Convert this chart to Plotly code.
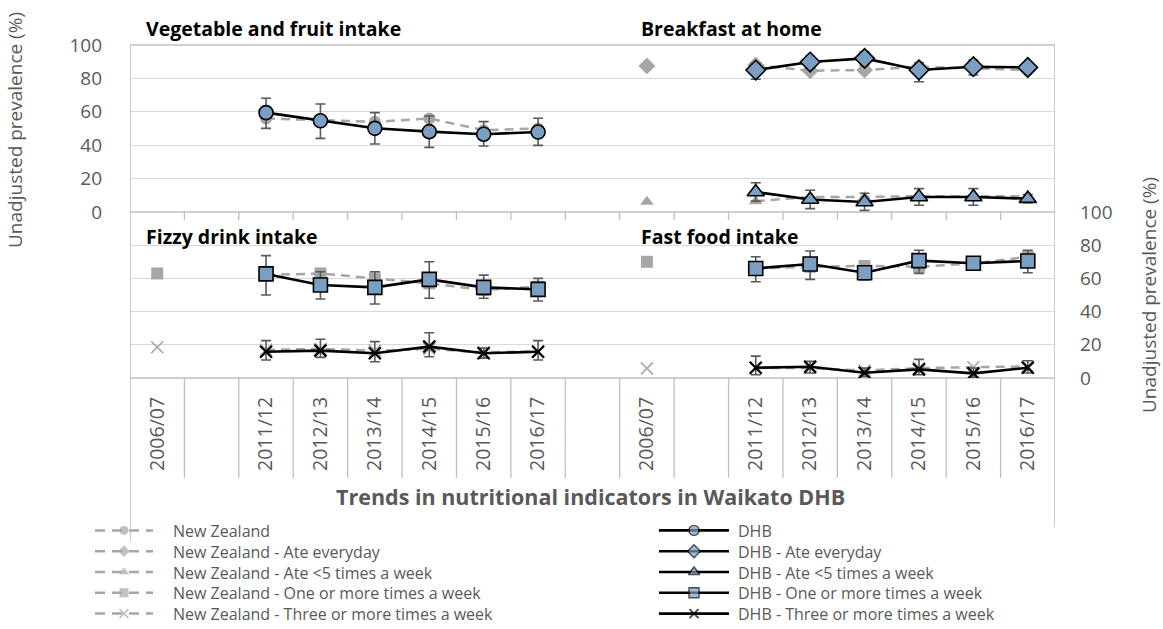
import plotly.graph_objects as go

# ---------------- data ----------------
years = ["2011/12", "2012/13", "2013/14", "2014/15", "2015/16", "2016/17"]
categories = ["2006/07", ""] + years + [""] + ["2006/07", ""] + years  # 17 slots

# Vegetable and fruit intake (top-left)
veg_dhb = [59.5, 54.6, 50.1, 48.1, 46.6, 47.9]
veg_dhb_lo = [50.1, 44.1, 40.7, 38.7, 39.5, 39.9]
veg_dhb_hi = [68.1, 64.7, 59.5, 57.5, 54.1, 56.1]
veg_nz = [56.0, 55.0, 54.0, 56.0, 49.0, 50.0]

# Breakfast at home (top-right)
bf_every_dhb = [85.0, 89.8, 92.0, 85.0, 87.0, 86.6]
bf_every_dhb_lo = [79.5, 86.3, 88.0, 78.0, 82.0, 84.5]
bf_every_dhb_hi = [89.0, 93.3, 96.0, 89.4, 91.0, 88.7]
bf_every_nz_0607 = 87.5
bf_every_nz = [88.0, 84.6, 85.0, 87.0, 86.0, 85.0]

bf_lt5_dhb = [12.0, 7.5, 6.0, 9.0, 9.0, 8.0]
bf_lt5_dhb_lo = [6.5, 2.0, 1.0, 4.0, 4.0, 5.5]
bf_lt5_dhb_hi = [17.5, 13.0, 11.2, 14.0, 14.0, 10.5]
bf_lt5_nz_0607 = 6.2
bf_lt5_nz = [6.5, 9.0, 9.0, 9.5, 9.5, 9.5]

# Fizzy drink intake (bottom-left)
fz_one_dhb = [62.7, 56.0, 54.6, 59.4, 54.6, 53.4]
fz_one_dhb_lo = [50.0, 47.6, 44.6, 48.0, 48.0, 46.4]
fz_one_dhb_hi = [73.7, 64.0, 64.0, 70.0, 62.0, 60.0]
fz_one_nz_0607 = 63.0
fz_one_nz = [62.0, 63.0, 60.0, 57.0, 53.0, 55.0]

fz_three_dhb = [15.8, 16.5, 14.9, 18.9, 14.9, 15.8]
fz_three_dhb_lo = [10.8, 12.4, 9.8, 12.8, 12.0, 10.8]
fz_three_dhb_hi = [22.5, 23.3, 21.9, 27.3, 18.0, 22.5]
fz_three_nz_0607 = 18.5
fz_three_nz = [17.0, 17.5, 16.5, 17.5, 15.5, 16.0]

# Fast food intake (bottom-right)
ff_one_dhb = [66.0, 68.7, 63.4, 70.7, 69.1, 70.5]
ff_one_dhb_lo = [58.0, 59.4, 59.0, 63.0, 65.5, 63.4]
ff_one_dhb_hi = [73.0, 76.5, 67.0, 77.0, 72.5, 77.0]
ff_one_nz_0607 = 70.0
ff_one_nz = [66.0, 67.0, 67.5, 67.0, 69.0, 73.0]

ff_three_dhb = [6.2, 6.8, 3.2, 5.2, 2.8, 6.2]
ff_three_dhb_lo = [2.0, 3.0, 1.0, 2.0, 0.5, 3.0]
ff_three_dhb_hi = [13.2, 10.0, 6.0, 11.2, 6.0, 10.4]
ff_three_nz_0607 = 5.8
ff_three_nz = [6.0, 6.0, 4.5, 6.0, 6.5, 7.0]

y_ticks = [0, 20, 40, 60, 80, 100]

nz_names = ["New Zealand", "New Zealand - Ate everyday", "New Zealand - Ate <5 times a week",
            "New Zealand - One or more times a week", "New Zealand - Three or more times a week"]
dhb_names = ["DHB", "DHB - Ate everyday", "DHB - Ate <5 times a week",
             "DHB - One or more times a week", "DHB - Three or more times a week"]
legend_symbols = ["circle", "diamond", "triangle-up", "square", "x-thin"]

# ---------------- styling ----------------
FONT = "Open Sans"
GRAY_TXT = "#595959"
NZ_COL = "#A6A6A6"
DHB_FILL = "#7B9FC3"
ERR_COL = "#595959"
AXIS_COL = "#BFBFBF"
GRID_COL = "#D9D9D9"
NZ_DASH = "9px,6px"

W, H = 1163, 629
PL, PR, PT, PM, PB = 130, 1055, 45, 212, 378  # plot box pixels


def fx(X):
    return X / W


def fy(Y):
    return 1 - Y / H


left_years_x = [categories.index(y) for y in years]          # 2..7
right_years_x = [9 + 2 + i for i in range(len(years))]        # 11..16
left_0607_x = 0
right_0607_x = 9

fig = go.Figure()


def nz_trace(xs, x0607, v0607, vals, symbol, yaxis):
    if v0607 is None:
        xx, yy = xs, vals
    else:
        xx = [x0607, x0607 + 1] + xs
        yy = [v0607, None] + vals
    if symbol == "x-thin":
        marker = dict(symbol=symbol, size=12, color=NZ_COL,
                      line=dict(color=NZ_COL, width=1.6))
    else:
        marker = dict(symbol=symbol, size=12 if symbol != "diamond" else 13,
                      color=NZ_COL, line=dict(width=0))
    fig.add_trace(go.Scatter(
        x=xx, y=yy, xaxis="x", yaxis=yaxis, mode="lines+markers",
        line=dict(color=NZ_COL, width=2.5, dash=NZ_DASH),
        marker=marker, connectgaps=False, showlegend=False, hoverinfo="skip"))


def dhb_trace(xs, vals, lo, hi, symbol, yaxis, size):
    plus = [h - v for h, v in zip(hi, vals)]
    minus = [v - l for l, v in zip(lo, vals)]
    if symbol == "x-thin":
        marker = dict(symbol=symbol, size=size, color="black",
                      line=dict(color="black", width=2.2))
    else:
        marker = dict(symbol=symbol, size=size, color=DHB_FILL,
                      line=dict(color="black", width=1.6))
    fig.add_trace(go.Scatter(
        x=xs, y=vals, xaxis="x", yaxis=yaxis, mode="lines+markers",
        line=dict(color="black", width=2.6), marker=marker,
        error_y=dict(type="data", symmetric=False, array=plus, arrayminus=minus,
                     color=ERR_COL, thickness=1.6, width=5),
        showlegend=False, hoverinfo="skip"))


# NZ traces (behind)
nz_trace(left_years_x, None, None, veg_nz, "circle", "y")
nz_trace(right_years_x, right_0607_x, bf_every_nz_0607, bf_every_nz, "diamond", "y")
nz_trace(right_years_x, right_0607_x, bf_lt5_nz_0607, bf_lt5_nz, "triangle-up", "y")
nz_trace(left_years_x, left_0607_x, fz_one_nz_0607, fz_one_nz, "square", "y2")
nz_trace(left_years_x, left_0607_x, fz_three_nz_0607, fz_three_nz, "x-thin", "y2")
nz_trace(right_years_x, right_0607_x, ff_one_nz_0607, ff_one_nz, "square", "y2")
nz_trace(right_years_x, right_0607_x, ff_three_nz_0607, ff_three_nz, "x-thin", "y2")

# DHB traces
dhb_trace(left_years_x, veg_dhb, veg_dhb_lo, veg_dhb_hi, "circle", "y", 14)
dhb_trace(right_years_x, bf_every_dhb, bf_every_dhb_lo, bf_every_dhb_hi, "diamond", "y", 15)
dhb_trace(right_years_x, bf_lt5_dhb, bf_lt5_dhb_lo, bf_lt5_dhb_hi, "triangle-up", "y", 15)
dhb_trace(left_years_x, fz_one_dhb, fz_one_dhb_lo, fz_one_dhb_hi, "square", "y2", 14)
dhb_trace(left_years_x, fz_three_dhb, fz_three_dhb_lo, fz_three_dhb_hi, "x-thin", "y2", 12)
dhb_trace(right_years_x, ff_one_dhb, ff_one_dhb_lo, ff_one_dhb_hi, "square", "y2", 14)
dhb_trace(right_years_x, ff_three_dhb, ff_three_dhb_lo, ff_three_dhb_hi, "x-thin", "y2", 12)

# ---------------- legend (two columns, drawn on a full-page overlay axis) ----------------
LEG_SIZE = 16
LEG_LINE = LEG_SIZE * 1.3          # plotly multi-line spacing
LEG_MID = 572                      # centre of the 5-row block (pixels)
row_y = [LEG_MID + (i - 2) * LEG_LINE for i in range(5)]
LEG_FONT = dict(family=FONT, size=LEG_SIZE, color=GRAY_TXT)
annotations = []
for i, sym in enumerate(legend_symbols):
    y = row_y[i]
    mk = dict(symbol=sym, size=[0, 9, 0], color=NZ_COL,
              line=dict(color=NZ_COL, width=1.5 if sym == "x-thin" else 0))
    fig.add_trace(go.Scatter(
        x=[95, 124, 153], y=[y, y, y], xaxis="x3", yaxis="y3", mode="lines+markers",
        line=dict(color=NZ_COL, width=2.5, dash="10px,7px"), marker=mk,
        showlegend=False, hoverinfo="skip", cliponaxis=False))
    if sym == "x-thin":
        mk = dict(symbol=sym, size=[0, 9, 0], color="black",
                  line=dict(color="black", width=2))
    else:
        mk = dict(symbol=sym, size=[0, 10, 0], color=DHB_FILL,
                  line=dict(color="black", width=1.4))
    fig.add_trace(go.Scatter(
        x=[659, 694, 729], y=[y, y, y], xaxis="x3", yaxis="y3", mode="lines+markers",
        line=dict(color="black", width=2.6), marker=mk,
        showlegend=False, hoverinfo="skip", cliponaxis=False))

annotations.append(dict(text="<br>".join(nz_names).replace("<5", "&lt;5"),
                        xref="paper", yref="paper", x=fx(171), y=fy(LEG_MID),
                        xanchor="left", yanchor="middle", align="left",
                        showarrow=False, font=LEG_FONT))
annotations.append(dict(text="<br>".join(dhb_names).replace("<5", "&lt;5"),
                        xref="paper", yref="paper", x=fx(736), y=fy(LEG_MID),
                        xanchor="left", yanchor="middle", align="left",
                        showarrow=False, font=LEG_FONT))

# ---------------- frame / category lines ----------------
shapes = []


def vline(xd, y0, y1, color=AXIS_COL, width=1.3):
    shapes.append(dict(type="line", xref="x", yref="paper", x0=xd, x1=xd,
                       y0=fy(y0), y1=fy(y1), line=dict(color=color, width=width),
                       layer="above"))


def hline(Y, color=AXIS_COL, width=1.3):
    shapes.append(dict(type="line", xref="x", yref="paper", x0=-0.5, x1=16.5,
                       y0=fy(Y), y1=fy(Y), line=dict(color=color, width=width),
                       layer="below"))


hline(PT)
hline(PM)
hline(PB)
vline(-0.5, PT, 542, width=1.6)
vline(16.5, PT, 527, width=1.6)
for i in range(len(categories) - 1):
    b = i + 0.5
    vline(b, PM, PM + 8)
    vline(b, PB, 478)

title_font = dict(family=FONT, size=19.5, color="black")
annotations += [
    dict(text="<b>Vegetable and fruit intake</b>", xref="paper", yref="paper",
         x=fx(144), y=fy(29), xanchor="left", yanchor="middle", showarrow=False,
         font=title_font),
    dict(text="<b>Breakfast at home</b>", xref="paper", yref="paper",
         x=fx(639), y=fy(29), xanchor="left", yanchor="middle", showarrow=False,
         font=title_font),
    dict(text="<b>Fizzy drink intake</b>", xref="paper", yref="paper",
         x=fx(144), y=fy(236), xanchor="left", yanchor="middle", showarrow=False,
         font=title_font),
    dict(text="<b>Fast food intake</b>", xref="paper", yref="paper",
         x=fx(639), y=fy(236), xanchor="left", yanchor="middle", showarrow=False,
         font=title_font),
    dict(text="<b>Trends in nutritional indicators in Waikato DHB</b>", xref="paper",
         yref="paper", x=fx(590), y=fy(496), xanchor="center", yanchor="middle",
         showarrow=False, font=dict(family=FONT, size=21.5, color=GRAY_TXT)),
    dict(text="Unadjusted prevalence (%)", xref="paper", yref="paper",
         x=fx(15), y=fy(130), xanchor="center", yanchor="middle", textangle=-90,
         showarrow=False, font=dict(family=FONT, size=19, color=GRAY_TXT)),
    dict(text="Unadjusted prevalence (%)", xref="paper", yref="paper",
         x=fx(1149), y=fy(295), xanchor="center", yanchor="middle", textangle=-90,
         showarrow=False, font=dict(family=FONT, size=19, color=GRAY_TXT)),
]

tickvals = [i for i, c in enumerate(categories) if c]
ticktext = [c for c in categories if c]

fig.update_layout(
    width=W, height=H,
    margin=dict(l=0, r=0, t=0, b=0, pad=0, autoexpand=False),
    paper_bgcolor="white", plot_bgcolor="rgba(0,0,0,0)",
    font=dict(family=FONT, color=GRAY_TXT),
    xaxis=dict(domain=[fx(PL), fx(PR)], range=[-0.5, 16.5], tickvals=tickvals,
               ticktext=ticktext, tickangle=-90, showgrid=False, zeroline=False,
               showline=False, ticks="", anchor="y2",
               tickfont=dict(size=19.5, color=GRAY_TXT), ticklabelstandoff=14,
               fixedrange=True),
    yaxis=dict(domain=[fy(PM), fy(PT)], range=[0, 100], tickvals=y_ticks,
               showgrid=True, gridcolor=GRID_COL, gridwidth=1.3, zeroline=False,
               showline=False, ticks="", tickfont=dict(size=19, color=GRAY_TXT),
               ticklabelstandoff=27, anchor="x", fixedrange=True),
    yaxis2=dict(domain=[fy(PB), fy(PM)], range=[0, 100], tickvals=y_ticks,
                showgrid=True, gridcolor=GRID_COL, gridwidth=1.3, zeroline=False,
                showline=False, ticks="", side="right", anchor="x",
                tickfont=dict(size=19, color=GRAY_TXT), ticklabelstandoff=24,
                fixedrange=True),
    xaxis3=dict(domain=[0, 1], range=[0, W], visible=False, anchor="y3",
                fixedrange=True),
    yaxis3=dict(domain=[0, 1], range=[H, 0], visible=False, anchor="x3",
                fixedrange=True),
    shapes=shapes,
    annotations=annotations,
    showlegend=False,
)

fig.write_html("out.html", config={"displayModeBar": False},
               post_script="document.body.style.margin='0';"
                           "document.body.style.overflow='hidden';")
